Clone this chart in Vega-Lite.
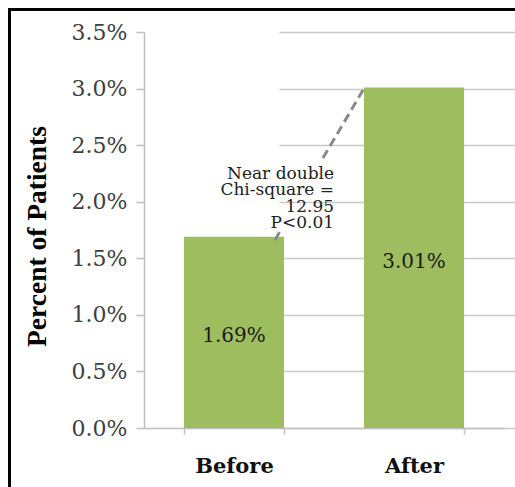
{
  "$schema": "https://vega.github.io/schema/vega-lite/v6.json",
  "width": 506,
  "height": 478,
  "autosize": {"type": "none"},
  "padding": {"left": 9, "top": 9, "right": 0, "bottom": 0},
  "background": "white",
  "config": {
    "view": {"stroke": null, "fill": "white"},
    "axisY": {
      "offset": -135,
      "labelFont": "DejaVu Serif", "labelFontSize": 22, "labelColor": "#404040", "labelPadding": 9, "labelBaseline": "middle",
      "tickSize": 8, "tickColor": "#bfbfbf", "tickWidth": 1.5,
      "domainColor": "#bfbfbf", "domainWidth": 1.5,
      "grid": true, "gridColor": "#c9c9c9", "gridWidth": 1.5,
      "titleFont": "Liberation Serif", "titleFontWeight": "bold", "titleFontSize": 27.5, "titleColor": "#000000",
      "titleAngle": -90, "titleX": -99, "titleY": 227, "titleAlign": "center", "titleBaseline": "alphabetic"
    },
    "axisX": {
      "offset": -59,
      "labelFont": "DejaVu Serif", "labelFontWeight": "bold", "labelFontSize": 21, "labelColor": "#111111",
      "labelPadding": 38, "labelBaseline": "alphabetic", "labelAngle": 0,
      "tickBand": "extent", "tickSize": 6, "tickColor": "#bfbfbf", "tickWidth": 1.5,
      "domainColor": "#bfbfbf", "domainWidth": 1.5, "grid": false
    }
  },
  "layer": [
    {
      "data": {"values": [{"period": "Before", "value": 0.0169}, {"period": "After", "value": 0.0301}]},
      "layer": [
        {
          "mark": {"type": "bar", "color": "#9dbd5f"},
          "encoding": {
            "x": {"field": "period", "type": "nominal", "sort": null,
                  "scale": {"range": [135, 495], "paddingInner": 0.444, "paddingOuter": 0.222},
                  "axis": {"title": null, "orient": "bottom"}},
            "y": {"field": "value", "type": "quantitative", "title": "Percent of Patients",
                  "scale": {"domain": [0, 0.035], "range": [419, 23], "nice": false},
                  "axis": {"orient": "left", "values": [0, 0.005, 0.01, 0.015, 0.02, 0.025, 0.03, 0.035], "format": ".1%", "title": "Percent of Patients"}}
          }
        },
        {
          "transform": [{"calculate": "datum.value / 2", "as": "mid"}],
          "mark": {"type": "text", "font": "DejaVu Serif", "fontSize": 20, "color": "#1a1a1a", "baseline": "middle", "dy": 4},
          "encoding": {
            "x": {"field": "period", "type": "nominal", "sort": null},
            "y": {"field": "mid", "type": "quantitative", "title": "Percent of Patients"},
            "text": {"field": "value", "format": ".2%"}
          }
        }
      ]
    },
    {
      "layer": [
        {
          "data": {"values": [
            {"seg": "a", "px": 0.728, "py": 0.01662},
            {"seg": "a", "px": 0.753, "py": 0.01732},
            {"seg": "b", "px": 0.994, "py": 0.02386},
            {"seg": "b", "px": 1.217, "py": 0.02987}
          ]},
          "mark": {"type": "line", "strokeDash": [9, 5], "strokeWidth": 3, "color": "#8a8a8a"},
          "encoding": {
            "x": {"field": "px", "type": "quantitative", "scale": {"domain": [0, 2], "range": [135, 495], "nice": false, "zero": false}, "axis": null},
            "y": {"field": "py", "type": "quantitative", "scale": {"domain": [0, 0.035], "range": [419, 23], "nice": false}, "axis": null},
            "detail": {"field": "seg"}
          }
        },
        {
          "data": {"values": [
            {"t": "Near double", "px": 1.056, "py": 0.022034},
            {"t": "Chi-square =", "px": 1.056, "py": 0.020593},
            {"t": "12.95", "px": 1.056, "py": 0.019117},
            {"t": "P<0.01", "px": 1.056, "py": 0.017703}
          ]},
          "mark": {"type": "text", "align": "right", "baseline": "alphabetic", "font": "DejaVu Serif", "fontSize": 17, "color": "#222222"},
          "encoding": {
            "x": {"field": "px", "type": "quantitative", "axis": null},
            "y": {"field": "py", "type": "quantitative", "axis": null},
            "text": {"field": "t"}
          }
        }
      ]
    },
    {
      "data": {"values": [{"fx": 0, "fy": 0}]},
      "mark": {"type": "point", "opacity": 0},
      "encoding": {
        "x": {"field": "fx", "type": "quantitative",
              "scale": {"domain": [0, 1], "range": [0, 506], "nice": false, "zero": false},
              "axis": {"orient": "top", "offset": 0, "domain": true, "domainColor": "#000000", "domainWidth": 3, "domainCap": "square", "ticks": false, "labels": false, "grid": false, "title": null}},
        "y": {"field": "fy", "type": "quantitative",
              "scale": {"domain": [0, 1], "range": [478, 0], "nice": false, "zero": false},
              "axis": {"orient": "left", "offset": 0, "domain": true, "domainColor": "#000000", "domainWidth": 3, "domainCap": "square", "ticks": false, "labels": false, "grid": false, "title": null}}
      }
    }
  ],
  "resolve": {"scale": {"x": "independent", "y": "independent"}, "axis": {"x": "independent", "y": "independent"}}
}
